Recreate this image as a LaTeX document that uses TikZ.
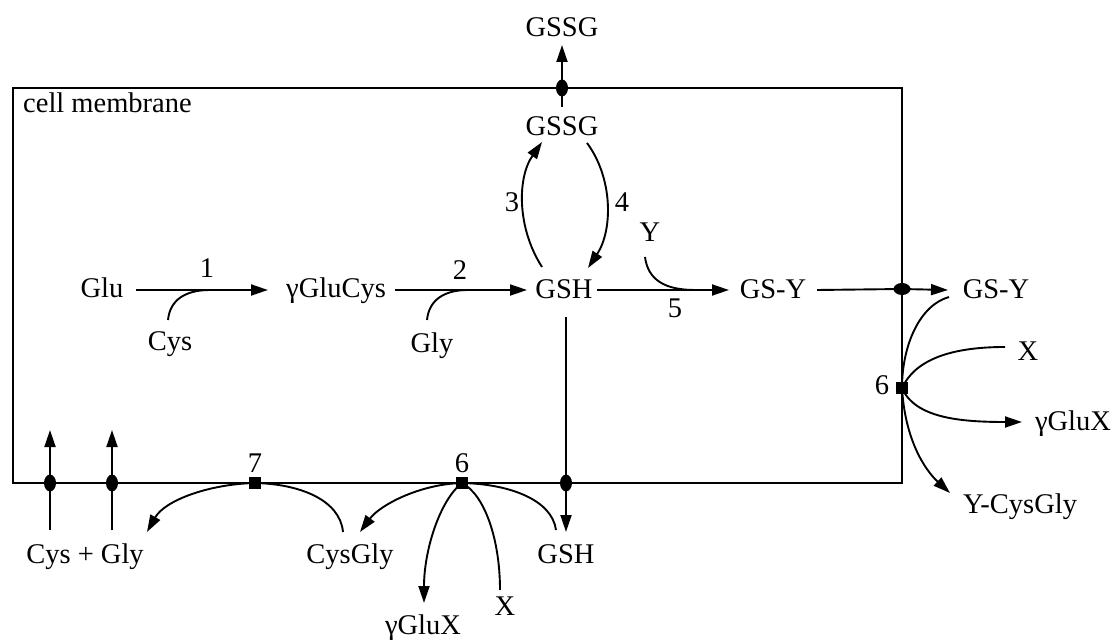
\documentclass[tikz,border=0pt]{standalone}
\usepackage{fontspec}
\setmainfont{Liberation Serif}
\usetikzlibrary{arrows.meta,shapes.geometric}
\begin{document}
\begin{tikzpicture}[x=1pt,y=-1pt,
 lbl/.style={font=\fontsize{28.5}{32}\selectfont, inner sep=0pt, anchor=base},
 ln/.style={line width=1.9pt},
 arr/.style={ln, -{Triangle[length=17pt,width=11pt]}},
 dotv/.style={ellipse, fill, inner sep=0pt, minimum width=12pt, minimum height=17pt},
 doth/.style={ellipse, fill, inner sep=0pt, minimum width=17pt, minimum height=12pt},
 enz/.style={rectangle, fill, inner sep=0pt, minimum size=12pt}]
\useasboundingbox (0,0) rectangle (1117,644);
% membrane
\node[draw, ln, inner sep=0pt, minimum width=889pt, minimum height=395pt] (cell) at (457.5,285.5) {};
% labels
\node[lbl, anchor=base west] (cm) at (23,113) {cell membrane};
\node[lbl] (gssgout) at (562,37) {GSSG};
\node[lbl] (gssg) at (562,136) {GSSG};
\node[lbl] (glu) at (102,298) {Glu};
\node[lbl, anchor=base west] (gcys) at (286,298) {γGluCys};
\node[lbl] (gsh) at (564,299) {GSH};
\node[lbl] (gsy) at (773,299) {GS-Y};
\node[lbl] (gsyout) at (996,299) {GS-Y};
\node[lbl] (cys) at (170,351) {Cys};
\node[lbl] (gly) at (432,353) {Gly};
\node[lbl] (n1) at (207,278) {1};
\node[lbl] (n2) at (460,280) {2};
\node[lbl] (n3) at (512,212) {3};
\node[lbl] (n4) at (622,212) {4};
\node[lbl] (y) at (650,242) {Y};
\node[lbl] (n5) at (675,318) {5};
\node[lbl] (n7) at (255,472) {7};
\node[lbl] (n6b) at (462,472) {6};
\node[lbl] (n6r) at (882,395) {6};
\node[lbl] (cysgly) at (350,563) {CysGly};
\node[lbl] (cpg) at (85,563) {Cys + Gly};
\node[lbl] (gshout) at (566,563) {GSH};
\node[lbl] (gluxb) at (423,634) {γGluX};
\node[lbl] (xb) at (505,615) {X};
\node[lbl] (xr) at (1028,361) {X};
\node[lbl] (gluxr) at (1073,430) {γGluX};
\node[lbl] (ycg) at (1020,513) {Y-CysGly};
% transporters and enzymes
\node[dotv] (mgssg) at (562,88) {};
\node[doth] (mgsy) at (902,289) {};
\node[dotv] (mgsh) at (566,483) {};
\node[dotv] (mc1) at (50,483) {};
\node[dotv] (mc2) at (112,483) {};
\node[enz] (e7) at (255,483) {};
\node[enz] (e6b) at (462,483) {};
\node[enz] (e6r) at (902,388) {};
% free ends
\coordinate (p1s) at (136,290); \coordinate (p1e) at (268,290);
\coordinate (cysT) at (168,320); \coordinate (j1) at (210,290);
\coordinate (p2s) at (395,290); \coordinate (p2e) at (527,290);
\coordinate (glyT) at (427,320); \coordinate (j2) at (468,290);
\coordinate (p5s) at (597,290); \coordinate (p5e) at (729,290);
\coordinate (yB) at (645,257); \coordinate (j5) at (695,290);
\coordinate (gsyE) at (817,290); \coordinate (gsyT) at (948,290);
\coordinate (gssgT) at (562,107); \coordinate (gssgO) at (562,45);
\coordinate (r3s) at (542,267); \coordinate (r3e) at (542,142);
\coordinate (r4s) at (587,143); \coordinate (r4e) at (588,268);
\coordinate (gshB) at (566,317); \coordinate (gshO) at (566,532);
\coordinate (u1s) at (50,530); \coordinate (u1e) at (50,430);
\coordinate (u2s) at (112,530); \coordinate (u2e) at (112,430);
\coordinate (cgT) at (343,532); \coordinate (cpgT) at (147,532);
\coordinate (gshC) at (556,530); \coordinate (cgA) at (360,532);
\coordinate (gxA) at (424,603); \coordinate (xbT) at (500,590);
\coordinate (gsyC) at (949,297); \coordinate (xrT) at (1005,347);
\coordinate (gxrA) at (1022,422); \coordinate (ycgA) at (950,493);
% connectors
\draw[arr] (gssgT) -- (mgssg.center) -- (gssgO);
\draw[arr] (p1s) -- (p1e);
\draw[ln] (cysT) .. controls (170,300) and (185,290) .. (j1);
\draw[arr] (p2s) -- (p2e);
\draw[ln] (glyT) .. controls (429,300) and (444,290) .. (j2);
\draw[arr] (r3s) .. controls (517,228) and (517,178) .. (r3e);
\draw[arr] (r4s) .. controls (613,178) and (613,230) .. (r4e);
\draw[arr] (p5s) -- (p5e);
\draw[ln] (yB) .. controls (648,280) and (665,290) .. (j5);
\draw[arr] (gsyE) -- (mgsy.center) -- (gsyT);
\draw[arr] (gshB) -- (mgsh.center) -- (gshO);
\draw[arr] (u1s) -- (mc1.center) -- (u1e);
\draw[arr] (u2s) -- (mc2.center) -- (u2e);
\draw[arr] (cgT) .. controls (340,500) and (300,484) .. (e7.center) .. controls (210,484) and (165,500) .. (cpgT);
\draw[ln] (gshC) .. controls (552,500) and (510,484) .. (e6b.center);
\draw[arr] (e6b.center) .. controls (420,484) and (380,505) .. (cgA);
\draw[arr] (e6b.center) .. controls (440,500) and (424,550) .. (gxA);
\draw[ln] (xbT) .. controls (500,540) and (485,495) .. (e6b.center);
\draw[ln] (gsyC) .. controls (920,305) and (902,345) .. (e6r.center);
\draw[ln] (xrT) .. controls (950,347) and (915,360) .. (e6r.center);
\draw[arr] (e6r.center) .. controls (915,418) and (960,422) .. (gxrA);
\draw[arr] (e6r.center) .. controls (905,440) and (925,470) .. (ycgA);
\end{tikzpicture}
\end{document}
